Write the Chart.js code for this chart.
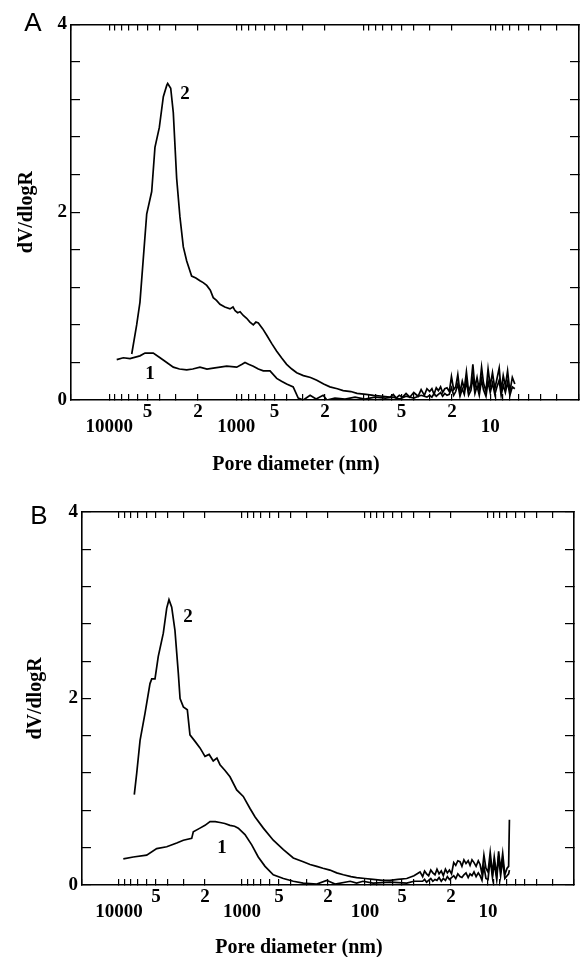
<!DOCTYPE html>
<html>
<head>
<meta charset="utf-8">
<title>Pore size distribution</title>
<script src="https://cdn.jsdelivr.net/npm/chart.js@4.4.1/dist/chart.umd.min.js"></script>
<style>
  body { margin: 0; background: #fff; }
  canvas { display: block; }
</style>
</head>
<body>
<canvas id="chartA" width="583" height="480"></canvas>
<canvas id="chartB" width="583" height="477"></canvas>
<script>
// Axis ticks (pore diameter in nm, log scale, reversed)
const xTicks = [2, 3, 4, 5, 6, 7, 8, 9,
  10, 20, 30, 40, 50, 60, 70, 80, 90,
  100, 200, 300, 400, 500, 600, 700, 800, 900,
  1000, 2000, 3000, 4000, 5000, 6000, 7000, 8000, 9000,
  10000, 20000];
const xDecades = [10000, 1000, 100, 10];
const xMinorLabelled = [5000, 2000, 500, 200, 50, 20];
const yTicks = [0, 0.4, 0.8, 1.2, 1.6, 2, 2.4, 2.8, 3.2, 3.6, 4];
const yLabelled = [0, 2, 4];

// Panel A, curve 2
const a2D = [6650, 6080, 5730, 5070, 4630, 4365, 4035, 3750, 3525, 3465, 3280, 3130, 2945, 2775,
  2610, 2455, 2245, 2080, 1930, 1820, 1707, 1600, 1517, 1430, 1343, 1230, 1120, 1060, 1020, 975,
  933, 880, 828, 780, 734, 700, 670, 620, 575, 525, 480, 440, 401, 365, 334, 296, 260, 232, 205,
  183, 160, 144, 125, 112, 95, 83, 70, 61.5, 58, 55, 52, 49, 46, 43, 40, 37, 35, 33, 31.5];
const a2V = [0.49, 0.80, 1.04, 1.98, 2.22, 2.69, 2.90, 3.23, 3.35, 3.37, 3.32, 3.06, 2.36, 1.95,
  1.63, 1.48, 1.32, 1.30, 1.27, 1.25, 1.22, 1.17, 1.09, 1.06, 1.02, 0.99, 0.97, 0.99, 0.95, 0.93,
  0.94, 0.90, 0.87, 0.83, 0.80, 0.83, 0.82, 0.76, 0.69, 0.60, 0.52, 0.45, 0.38, 0.33, 0.29, 0.26, 0.24, 0.21, 0.17,
  0.14, 0.12, 0.10, 0.09, 0.07, 0.06, 0.05, 0.04, 0.03, 0.06, 0.02, 0.05, 0.03, 0.07, 0.03, 0.08, 0.04, 0.11, 0.05, 0.12];

// Panel A, curve 1
const a1D = [8730, 7745, 6860, 5730, 5225, 4500, 3980, 3525, 3130, 2800, 2455, 2200, 1930, 1700,
  1517, 1340, 1189, 991, 900, 853, 800, 734, 670, 612, 542, 480, 440, 401, 356, 325, 296, 262,
  235, 207, 193, 167, 139, 116, 97, 81, 67, 58, 52, 46, 40, 35, 31.5];
const a1V = [0.43, 0.45, 0.44, 0.47, 0.50, 0.50, 0.45, 0.40, 0.35, 0.33, 0.32, 0.33, 0.35, 0.33,
  0.34, 0.35, 0.36, 0.35, 0.38, 0.40, 0.38, 0.36, 0.33, 0.31, 0.31, 0.23, 0.20, 0.17, 0.14, 0.02, 0.00, 0.05,
  0.01, 0.05, 0.00, 0.02, 0.01, 0.03, 0.01, 0.03, 0.02, 0.03, 0.01, 0.04, 0.02, 0.05, 0.03];

// Panel A, noisy small-pore tail (shared diameters)
const aTailD = [30, 28.8, 27.7, 26.6, 25.6, 24.6, 23.7, 22.8, 21.9, 21, 20.2, 19.4, 18.7, 18, 17.3,
  16.6, 16, 15.4, 14.8, 14.2, 13.7, 13.2, 12.7, 12.2, 11.7, 11.3, 10.8, 10.4, 10, 9.6, 9.2, 8.9,
  8.5, 8.2, 7.9, 7.6, 7.3, 7, 6.7, 6.4];
const a2TailV = [0.09, 0.12, 0.06, 0.13, 0.10, 0.14, 0.08, 0.12, 0.13, 0.09, 0.25, 0.11, 0.14, 0.27, 0.08,
  0.20, 0.12, 0.30, 0.09, 0.16, 0.38, 0.13, 0.24, 0.11, 0.35, 0.18, 0.09, 0.33, 0.15, 0.29, 0.12, 0.21,
  0.34, 0.10, 0.26, 0.15, 0.31, 0.09, 0.24, 0.17];
const a1TailV = [0.05, 0.03, 0.07, 0.04, 0.06, 0.08, 0.04, 0.07, 0.05, 0.06, 0.13, 0.05, 0.09, 0.17, 0.04,
  0.12, 0.06, 0.20, 0.05, 0.10, 0.24, 0.07, 0.15, 0.05, 0.22, 0.11, 0.04, 0.20, 0.08, 0.18, 0.06, 0.13,
  0.21, 0.05, 0.16, 0.08, 0.19, 0.05, 0.14, 0.12];

// Panel B, curve 2
const b2D = [7515, 7180, 6745, 6150, 5600, 5420, 5100, 4800, 4365, 4095, 3925, 3730, 3510, 3295,
  3190, 3000, 2785, 2650, 2410, 2197, 2000, 1850, 1714, 1600, 1510, 1380, 1253, 1105, 977, 861,
  783, 671, 557, 461, 383, 318, 280, 247, 220, 193, 170, 150, 130, 117, 100, 86, 72, 62.7, 54,
  45.8, 40, 35.7];
const b2V = [0.97, 1.20, 1.55, 1.84, 2.16, 2.21, 2.21, 2.45, 2.70, 2.97, 3.06, 2.98, 2.73, 2.27,
  2.00, 1.91, 1.88, 1.61, 1.54, 1.47, 1.38, 1.40, 1.33, 1.36, 1.29, 1.23, 1.16, 1.02, 0.95, 0.82,
  0.73, 0.61, 0.48, 0.38, 0.29, 0.25, 0.22, 0.20, 0.18, 0.16, 0.13, 0.11, 0.09, 0.08, 0.07, 0.06, 0.05, 0.05, 0.06,
  0.07, 0.10, 0.14];

// Panel B, curve 1
const b1D = [9230, 7655, 5960, 4940, 4095, 3395, 3000, 2565, 2490, 2197, 2000, 1820, 1650, 1510,
  1380, 1253, 1150, 1072, 946, 834, 738, 650, 557, 461, 383, 318, 247, 205, 175, 132, 117, 104,
  86, 62.7, 45.8, 40];
const b1V = [0.28, 0.30, 0.32, 0.39, 0.41, 0.45, 0.48, 0.50, 0.57, 0.61, 0.64, 0.68, 0.68, 0.67,
  0.66, 0.64, 0.63, 0.61, 0.54, 0.43, 0.30, 0.20, 0.11, 0.07, 0.04, 0.02, 0.01, 0.05, 0.01, 0.04, 0.02, 0.04,
  0.02, 0.03, 0.02, 0.04];

// Panel B, noisy small-pore tail (shared diameters)
const bTailD = [34, 32.8, 31.6, 30.4, 29.2, 28.1, 27, 26, 25, 24, 23.1, 22.2, 21.4, 20.6, 19.8, 19,
  18.3, 17.6, 16.9, 16.3, 15.7, 15.1, 14.5, 14, 13.5, 13, 12.5, 12, 11.6, 11.2, 10.8, 10.4, 10,
  9.6, 9.2, 8.9, 8.5, 8.2, 7.9, 7.6, 7.3, 7.0, 6.8, 6.7];
const b2TailV = [0.09, 0.15, 0.12, 0.10, 0.16, 0.13, 0.11, 0.17, 0.12, 0.15, 0.10, 0.17, 0.13, 0.16, 0.12, 0.24,
  0.21, 0.26, 0.25, 0.20, 0.27, 0.23, 0.26, 0.21, 0.27, 0.24, 0.20, 0.26, 0.22, 0.12, 0.32, 0.18, 0.14,
  0.35, 0.12, 0.30, 0.10, 0.36, 0.16, 0.34, 0.11, 0.18, 0.20, 0.70];
const b1TailV = [0.04, 0.06, 0.03, 0.05, 0.07, 0.04, 0.06, 0.05, 0.08, 0.04, 0.07, 0.05, 0.09, 0.06, 0.08, 0.10,
  0.07, 0.12, 0.09, 0.08, 0.11, 0.13, 0.08, 0.12, 0.10, 0.14, 0.09, 0.13, 0.10, 0.05, 0.20, 0.07, 0.06,
  0.28, 0.08, 0.24, 0.06, 0.31, 0.10, 0.27, 0.07, 0.10, 0.12, 0.16];

// Curve labels "1" and "2" (diameter, value)
const aLabels = [{ text: '2', x: 2530, y: 3.26 }, { text: '1', x: 4775, y: 0.28 }];
const bLabels = [{ text: '2', x: 2750, y: 2.87 }, { text: '1', x: 1455, y: 0.40 }];

const SERIF = '"Liberation Serif", "Times New Roman", serif';
Chart.defaults.font.family = SERIF;
Chart.defaults.color = '#000';

// Panel letter, curve numbers and x axis title
const panelText = {
    id: 'panelText',
    afterDraw(chart, args, opts) {
        const ctx = chart.ctx;
        const xs = chart.scales.x;
        const ys = chart.scales.y;
        ctx.save();
        ctx.fillStyle = '#000';
        ctx.textAlign = 'center';
        ctx.textBaseline = 'middle';
        ctx.font = '26px "Liberation Sans", Arial, sans-serif';
        ctx.fillText(opts.letter, opts.letterPos[0], opts.letterPos[1]);
        ctx.font = 'bold 19px ' + SERIF;
        opts.labels.forEach(l => {
            ctx.fillText(l.text, xs.getPixelForValue(l.x), ys.getPixelForValue(l.y));
        });
        ctx.font = 'bold 20px ' + SERIF;
        ctx.fillText('Pore diameter (nm)', opts.titlePos[0], opts.titlePos[1]);
        ctx.restore();
    }
};

function toPoints(d, v) {
    return d.map((x, i) => ({ x: x, y: v[i] }));
}

function xLabel(v) {
    if (xDecades.includes(v)) return ['', String(v)];
    if (xMinorLabelled.includes(v)) return String(v).charAt(0);
    return '';
}

function logAxis(position, tickLen, size, showLabels) {
    return {
        type: 'logarithmic',
        position: position,
        min: 2,
        max: 20000,
        reverse: true,
        afterBuildTicks: s => { s.ticks = xTicks.map(v => ({ value: v })); },
        afterFit: s => { s.height = size; },
        grid: { drawOnChartArea: false, drawTicks: true, tickLength: tickLen, color: '#000', lineWidth: 1.2 },
        border: { display: true, color: '#000', width: 1.6 },
        ticks: {
            display: showLabels,
            autoSkip: false,
            maxRotation: 0,
            minRotation: 0,
            padding: 10.5,
            color: '#000',
            font: { size: 19, weight: 'bold', lineHeight: '15px' },
            callback: xLabel
        }
    };
}

function valueAxis(position, size, showLabels, titlePad) {
    return {
        type: 'linear',
        position: position,
        min: 0,
        max: 4,
        afterBuildTicks: s => { s.ticks = yTicks.map(v => ({ value: v })); },
        afterFit: s => { s.width = size; },
        grid: { drawOnChartArea: false, drawTicks: true, tickLength: -9, color: '#000', lineWidth: 1.2 },
        border: { display: true, color: '#000', width: 1.6 },
        ticks: {
            display: showLabels,
            padding: 13,
            color: '#000',
            font: { size: 19, weight: 'bold' },
            callback: v => (yLabelled.includes(v) ? String(v) : '')
        },
        title: {
            display: showLabels,
            text: 'dV/dlogR',
            color: '#000',
            font: { size: 20, weight: 'bold' },
            padding: { top: titlePad, bottom: 0 }
        }
    };
}

function makePanel(canvasId, p) {
    return new Chart(document.getElementById(canvasId), {
        type: 'line',
        data: {
            datasets: p.series.map(s => ({
                data: s,
                borderColor: '#000',
                borderWidth: 1.7,
                pointRadius: 0,
                tension: 0,
                fill: false
            }))
        },
        options: {
            responsive: false,
            animation: false,
            devicePixelRatio: 1,
            layout: { padding: 0 },
            plugins: {
                legend: { display: false },
                tooltip: { enabled: false },
                panelText: { letter: p.letter, letterPos: p.letterPos, labels: p.labels, titlePos: p.titlePos }
            },
            scales: {
                x: logAxis('bottom', -6, p.bottomH, true),
                x2: logAxis('top', -6, p.topH, false),
                y: valueAxis('left', p.leftW, true, p.yTitlePad),
                y2: valueAxis('right', p.rightW, false, 0)
            }
        },
        plugins: [panelText]
    });
}

makePanel('chartA', {
    letter: 'A',
    letterPos: [33, 24],
    titlePos: [296, 465],
    labels: aLabels,
    leftW: 71, rightW: 4, topH: 16, bottomH: 80, yTitlePad: 15,
    series: [
        toPoints(a2D.concat(aTailD), a2V.concat(a2TailV)),
        toPoints(a1D.concat(aTailD), a1V.concat(a1TailV))
    ]
});

makePanel('chartB', {
    letter: 'B',
    letterPos: [39, 37],
    titlePos: [299, 468],
    labels: bLabels,
    leftW: 82, rightW: 9, topH: 32, bottomH: 72, yTitlePad: 24,
    series: [
        toPoints(b2D.concat(bTailD), b2V.concat(b2TailV)),
        toPoints(b1D.concat(bTailD), b1V.concat(b1TailV))
    ]
});
</script>
</body>
</html>
